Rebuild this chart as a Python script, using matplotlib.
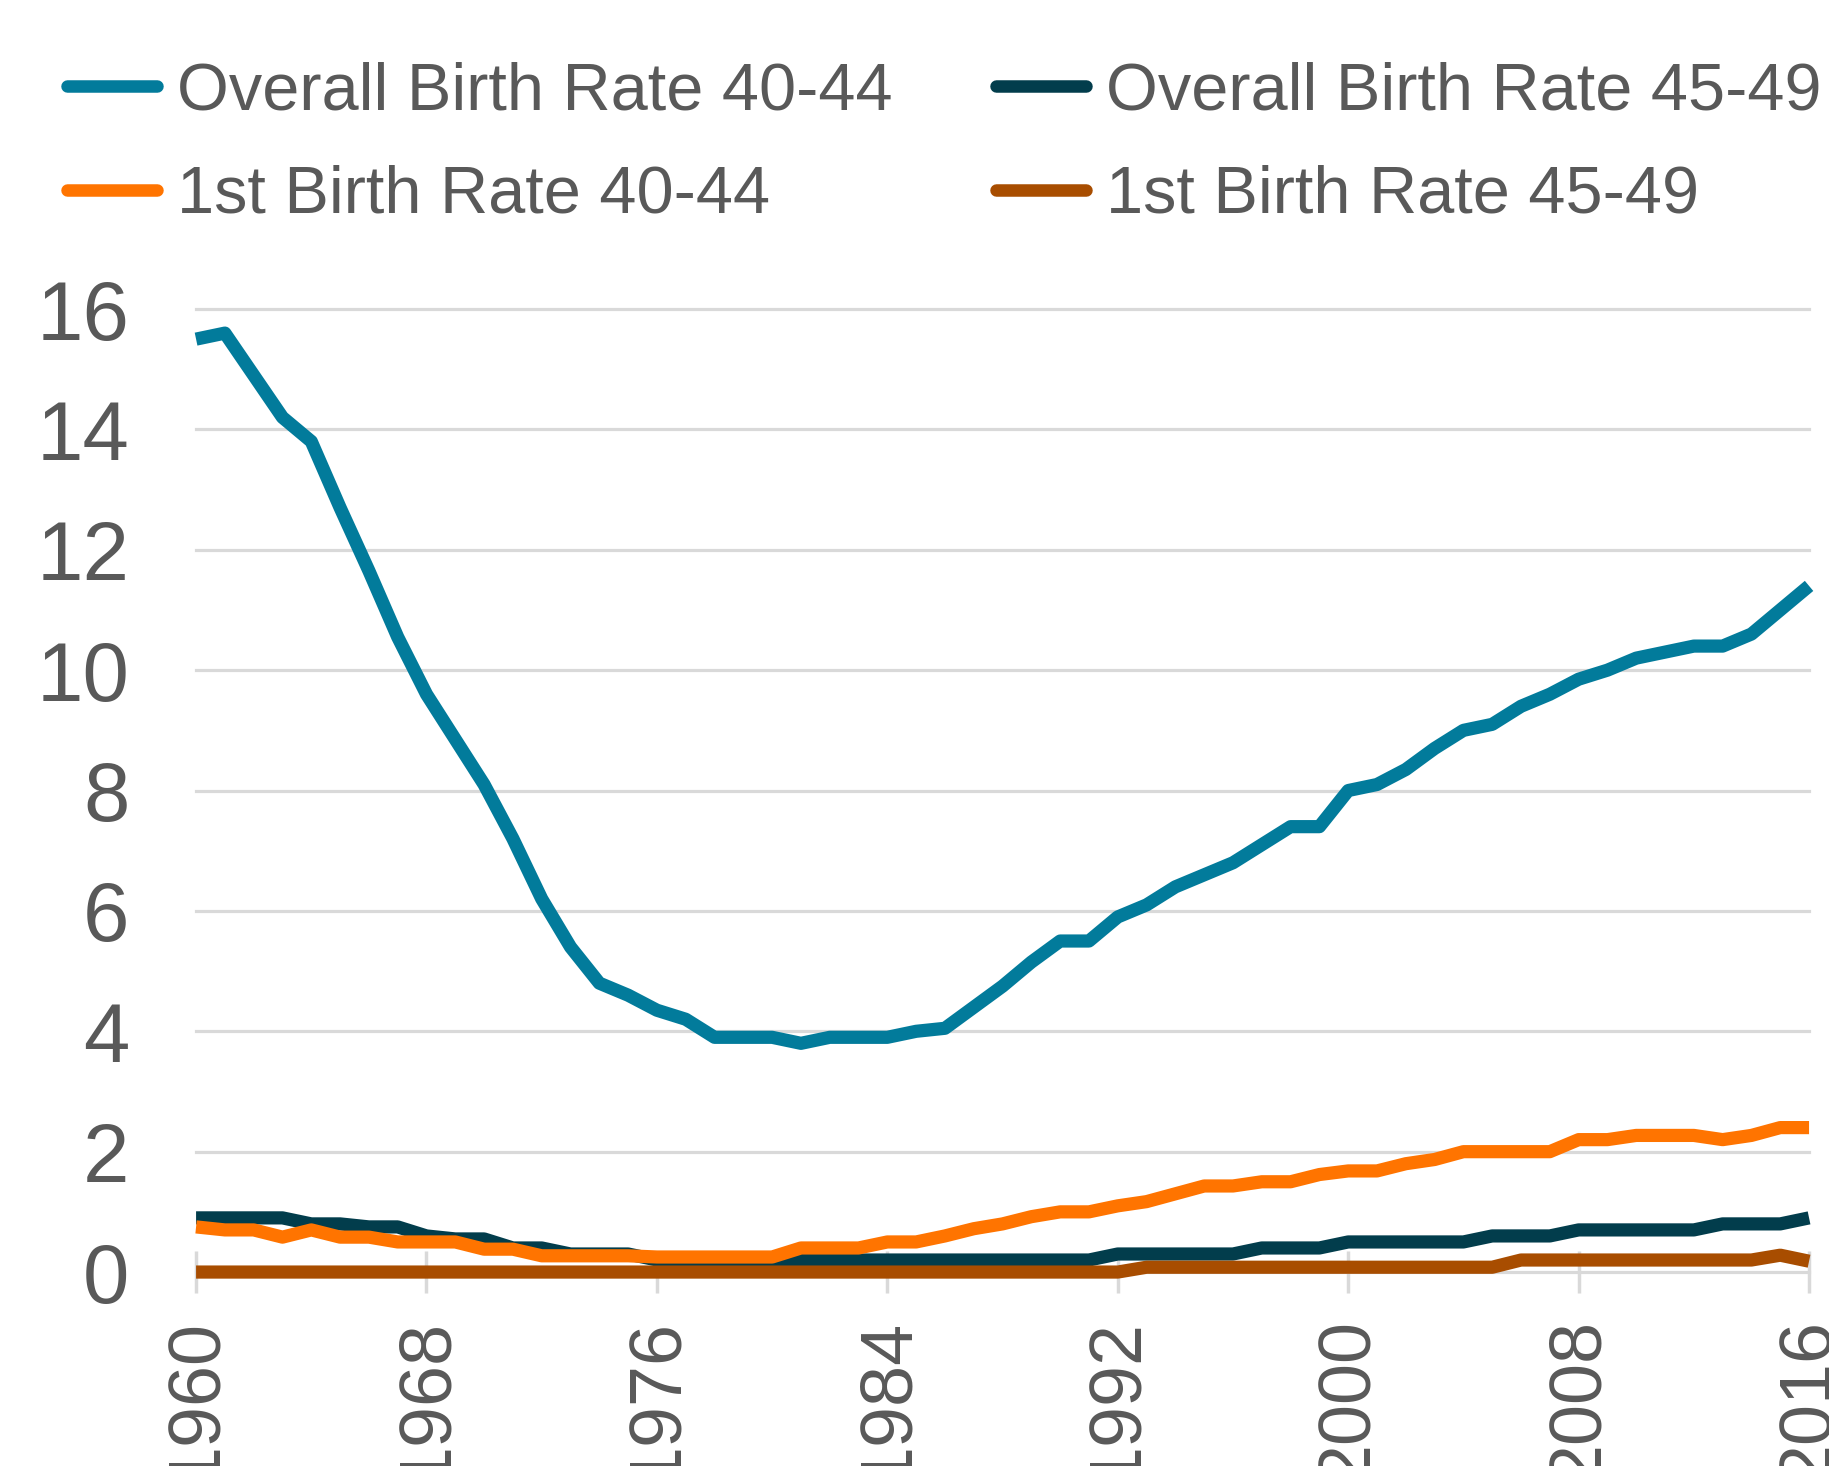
import matplotlib

matplotlib.use("Agg")
import matplotlib.pyplot as plt

# colours
TEAL = "#027b9b"
DARK = "#023d4c"
ORANGE = "#ff7400"
BROWN = "#a84d00"
TEXT = "#595959"
GRID = "#d9d9d9"

years = list(range(1960, 2017))

overall_40_44 = [
    15.5, 15.6, 14.9, 14.2, 13.8, 12.7, 11.65, 10.55, 9.6, 8.85,
    8.1, 7.2, 6.2, 5.4, 4.8, 4.6, 4.35, 4.2, 3.9, 3.9,
    3.9, 3.8, 3.9, 3.9, 3.9, 4.0, 4.05, 4.4, 4.75, 5.15,
    5.5, 5.5, 5.9, 6.1, 6.4, 6.6, 6.8, 7.1, 7.4, 7.4,
    8.0, 8.1, 8.35, 8.7, 9.0, 9.1, 9.4, 9.6, 9.85, 10.0,
    10.2, 10.3, 10.4, 10.4, 10.6, 11.0, 11.4,
]
overall_45_49 = [
    0.9, 0.9, 0.9, 0.9, 0.8, 0.8, 0.75, 0.75, 0.6, 0.55,
    0.55, 0.4, 0.4, 0.3, 0.3, 0.3, 0.2, 0.2, 0.2, 0.2,
    0.2, 0.2, 0.2, 0.2, 0.2, 0.2, 0.2, 0.2, 0.2, 0.2,
    0.2, 0.2, 0.3, 0.3, 0.3, 0.3, 0.3, 0.4, 0.4, 0.4,
    0.5, 0.5, 0.5, 0.5, 0.5, 0.6, 0.6, 0.6, 0.7, 0.7,
    0.7, 0.7, 0.7, 0.8, 0.8, 0.8, 0.9,
]
first_40_44 = [
    0.75, 0.7, 0.7, 0.58, 0.7, 0.58, 0.58, 0.5, 0.5, 0.5,
    0.38, 0.38, 0.27, 0.27, 0.27, 0.27, 0.25, 0.25, 0.25, 0.25,
    0.25, 0.4, 0.4, 0.4, 0.5, 0.5, 0.6, 0.72, 0.8, 0.92,
    1.0, 1.0, 1.1, 1.17, 1.3, 1.43, 1.43, 1.5, 1.5, 1.62,
    1.68, 1.68, 1.8, 1.87, 2.0, 2.0, 2.0, 2.0, 2.2, 2.2,
    2.27, 2.27, 2.27, 2.2, 2.27, 2.4, 2.4,
]
first_45_49 = [0.0] * 33 + [0.08] * 13 + [0.2] * 9 + [0.28, 0.18]

labels = [
    "Overall Birth Rate 40-44",
    "Overall Birth Rate 45-49",
    "1st Birth Rate 40-44",
    "1st Birth Rate 45-49",
]
xticks = list(range(1960, 2017, 8))
yticks = list(range(0, 17, 2))

plt.rcParams["font.family"] = ["Liberation Sans", "DejaVu Sans"]

fig = plt.figure(figsize=(18.29, 14.66), dpi=100)
ax = fig.add_axes([0.1072, 0.1323, 0.9891 - 0.1072, 0.7892 - 0.1323])

series = [overall_40_44, overall_45_49, first_40_44, first_45_49]
colors = [TEAL, DARK, ORANGE, BROWN]
lines = []
for vals, c, lab in zip(series, colors, labels):
    (ln,) = ax.plot(
        years, vals, color=c, lw=9.5, label=lab,
        solid_joinstyle="round", solid_capstyle="butt", clip_on=False, zorder=3,
    )
    lines.append(ln)

ax.set_xlim(1960, 2016)
ax.set_ylim(0, 16)
ax.set_xticks(xticks)
ax.set_yticks(yticks)
ax.set_xticklabels([str(y) for y in xticks], rotation=90, va="top", ha="center")

for s in ax.spines.values():
    s.set_visible(False)

ax.grid(axis="y", color=GRID, lw=2.3)
ax.set_axisbelow(True)
for gl in ax.get_ygridlines():
    gl.set_clip_on(False)

ax.tick_params(axis="y", length=0, pad=48, labelsize=60, labelcolor=TEXT)
ax.tick_params(axis="x", direction="inout", length=30, width=2.5, color=GRID,
               pad=18, labelsize=53, labelcolor=TEXT)

leg = fig.legend(
    [lines[0], lines[2], lines[1], lines[3]],
    [labels[0], labels[2], labels[1], labels[3]],
    ncol=2,
    loc="upper left",
    bbox_to_anchor=(0.0364, 0.958),
    frameon=False,
    fontsize=48,
    handlelength=1.36,
    handletextpad=0.3,
    columnspacing=1.54,
    labelspacing=0.62,
    borderpad=0,
    borderaxespad=0,
)
for t in leg.get_texts():
    t.set_color(TEXT)
for h in leg.get_lines():
    h.set_linewidth(9)
    h.set_solid_capstyle("round")

fig.savefig("out.png", dpi=100)
